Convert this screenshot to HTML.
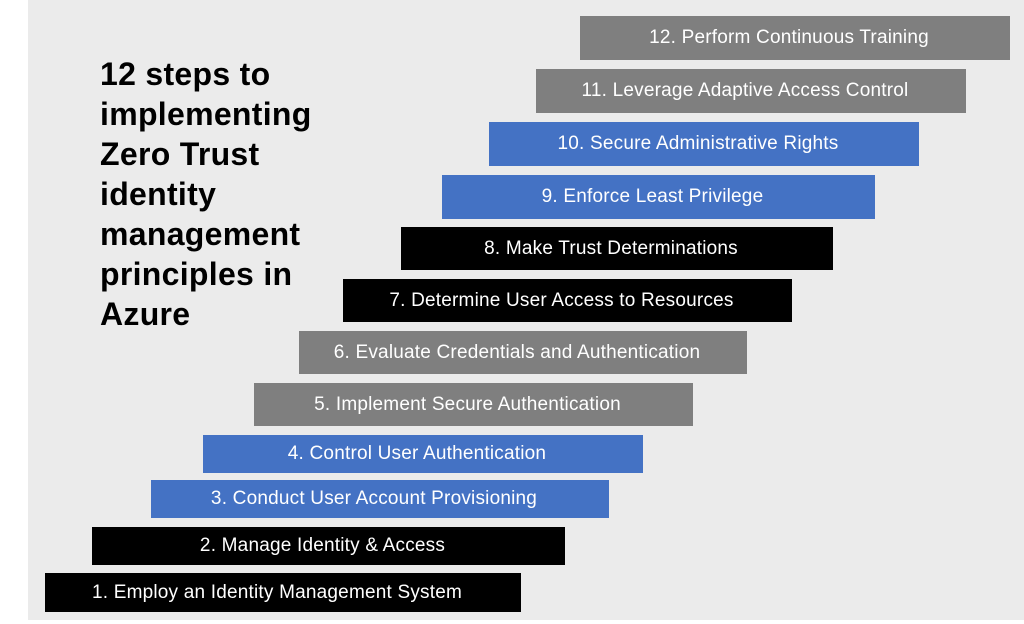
<!DOCTYPE html>
<html><head><style>
html,body{margin:0;padding:0;background:#fff;}
#bg{position:absolute;left:28px;top:0;width:996px;height:620px;background:#ebebeb;}
.t{position:absolute;left:100px;top:54px;font:bold 32px/40px "Liberation Sans",sans-serif;color:#000;letter-spacing:0.3px;}
.b{position:absolute;color:#fff;font:19px "Liberation Sans",sans-serif;display:flex;align-items:center;justify-content:center;padding-right:12px;box-sizing:border-box;white-space:nowrap;letter-spacing:0.2px;}
.g{background:#7f7f7f}.u{background:#4472c4}.k{background:#000}
</style></head><body>
<div id="bg"></div>
<div class="t">12 steps to<br>implementing<br>Zero Trust<br>identity<br>management<br>principles in<br>Azure</div>
<div class="b g" style="left:580px;top:16px;width:430px;height:44px">12. Perform Continuous Training</div>
<div class="b g" style="left:536px;top:69px;width:430px;height:44px">11. Leverage Adaptive Access Control</div>
<div class="b u" style="left:489px;top:122px;width:430px;height:44px">10. Secure Administrative Rights</div>
<div class="b u" style="left:442px;top:175px;width:433px;height:44px">9. Enforce Least Privilege</div>
<div class="b k" style="left:401px;top:227px;width:432px;height:43px">8. Make Trust Determinations</div>
<div class="b k" style="left:343px;top:279px;width:449px;height:43px">7. Determine User Access to Resources</div>
<div class="b g" style="left:299px;top:331px;width:448px;height:43px">6. Evaluate Credentials and Authentication</div>
<div class="b g" style="left:254px;top:383px;width:439px;height:43px">5. Implement Secure Authentication</div>
<div class="b u" style="left:203px;top:435px;width:440px;height:38px">4. Control User Authentication</div>
<div class="b u" style="left:151px;top:480px;width:458px;height:38px">3. Conduct User Account Provisioning</div>
<div class="b k" style="left:92px;top:527px;width:473px;height:38px">2. Manage Identity &amp; Access</div>
<div class="b k" style="left:45px;top:573px;width:476px;height:39px">1. Employ an Identity Management System</div>
</body></html>
